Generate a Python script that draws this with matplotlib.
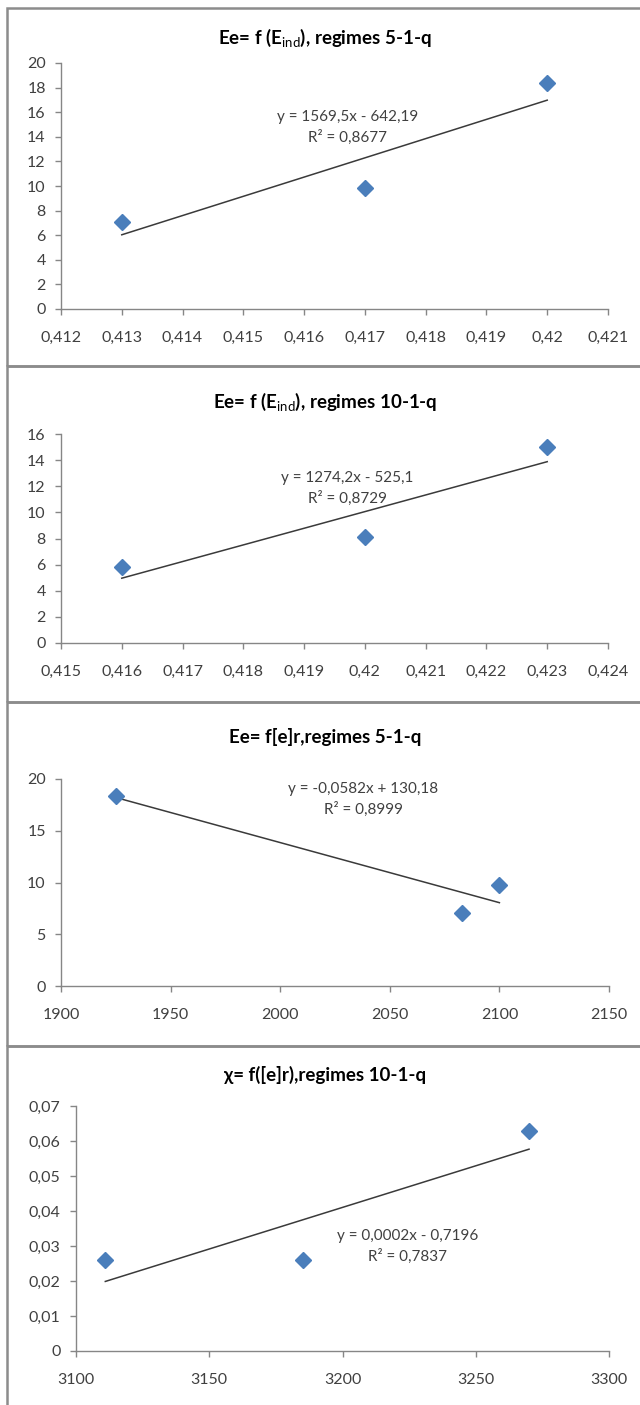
import numpy as np
import matplotlib
matplotlib.use('Agg')
import matplotlib.pyplot as plt
from matplotlib.patches import Rectangle
from matplotlib.ticker import FuncFormatter, MultipleLocator

plt.rcParams['font.family'] = ['Lato', 'DejaVu Sans']
plt.rcParams['mathtext.fontset'] = 'custom'
plt.rcParams['mathtext.rm'] = 'Lato'
plt.rcParams['mathtext.bf'] = 'Lato:bold'

# data
x1 = [0.413, 0.417, 0.420]
y1 = [7.1, 9.8, 18.4]
x2 = [0.416, 0.420, 0.423]
y2 = [5.8, 8.1, 15.0]
x3 = [1925, 2083, 2100]
y3 = [18.4, 7.1, 9.8]
x4 = [3111, 3185, 3270]
y4 = [0.026, 0.026, 0.063]

titles = [r'Ee= f (E$_{\mathrm{ind}}$), regimes 5-1-q',
          r'Ee= f (E$_{\mathrm{ind}}$), regimes 10-1-q',
          'Ee= f[e]r,regimes 5-1-q',
          'χ= f([e]r),regimes 10-1-q']
equations = ['y = 1569,5x - 642,19', 'y = 1274,2x - 525,1',
             'y = -0,0582x + 130,18', 'y = 0,0002x - 0,7196']
r2_labels = ['R² = 0,8677', 'R² = 0,8729', 'R² = 0,8999', 'R² = 0,7837']

xlims = [(0.412, 0.421), (0.415, 0.424), (1900, 2150), (3100, 3300)]
xsteps = [0.001, 0.001, 50, 50]
ylims = [(0, 20), (0, 16), (0, 20), (0, 0.07)]
ysteps = [2, 2, 5, 0.01]

W, H = 640, 1405
# pixel layout: panel box (top, bottom), axes box (left, right, top, bottom),
# title y, equation centre (x, y)
boxes = [(8, 366), (366, 702), (702, 1046), (1046, 1420)]
axboxes = [(61, 608, 63, 309), (61, 608, 434, 643),
           (61, 609, 779, 986), (76, 609, 1106, 1351)]
title_y = [38, 402, 737, 1075]
eq_pos = [(348, 117), (347, 478), (363, 789), (408, 1236)]

BLUE = '#4a7ebb'
GREY = '#868686'
TXT = '#404040'


def fmt(v, pos):
    s = '%g' % round(v, 6)
    return s.replace('.', ',')


fig = plt.figure(figsize=(W / 100, H / 100), dpi=100)

for i, (xs, ys) in enumerate([(x1, y1), (x2, y2), (x3, y3), (x4, y4)]):
    top, bot = boxes[i]
    fig.add_artist(Rectangle((7 / W, 1 - bot / H), 1.0, (bot - top) / H,
                             transform=fig.transFigure, fill=False,
                             edgecolor='#8c8c8c', linewidth=1.8))

    l, r, t, b = axboxes[i]
    ax = fig.add_axes([l / W, 1 - b / H, (r - l) / W, (b - t) / H])
    ax.set_facecolor('none')

    # linear trendline from the data
    k, c = np.polyfit(xs, ys, 1)
    xx = np.array([min(xs), max(xs)])
    ax.plot(xx, k * xx + c, color='#3a3a3a', lw=1.1, zorder=2)
    ax.plot(xs, ys, ls='none', marker='D', ms=8, color=BLUE,
            markeredgecolor=BLUE, zorder=3)

    ax.set_xlim(*xlims[i])
    ax.set_ylim(*ylims[i])
    ax.xaxis.set_major_locator(MultipleLocator(xsteps[i]))
    ax.yaxis.set_major_locator(MultipleLocator(ysteps[i]))
    ax.xaxis.set_major_formatter(FuncFormatter(fmt))
    ax.yaxis.set_major_formatter(FuncFormatter(fmt))

    for s in ['top', 'right']:
        ax.spines[s].set_visible(False)
    for s in ['left', 'bottom']:
        ax.spines[s].set_color(GREY)
        ax.spines[s].set_linewidth(1.0)
    ax.tick_params(direction='out', length=4, width=1.0, color=GREY,
                   labelcolor=TXT, labelsize=11.5)
    ax.tick_params(axis='y', pad=7)
    ax.tick_params(axis='x', pad=12)

    fig.text(325 / W, 1 - title_y[i] / H, titles[i], ha='center',
             va='center', fontsize=13.5, fontweight='bold', color='black')

    ex, ey = eq_pos[i]
    fig.text(ex / W, 1 - ey / H, equations[i], ha='center', va='center',
             fontsize=11, color=TXT)
    fig.text(ex / W, 1 - (ey + 20) / H, r2_labels[i], ha='center',
             va='center', fontsize=11, color=TXT)

fig.savefig('out.png', dpi=100)
